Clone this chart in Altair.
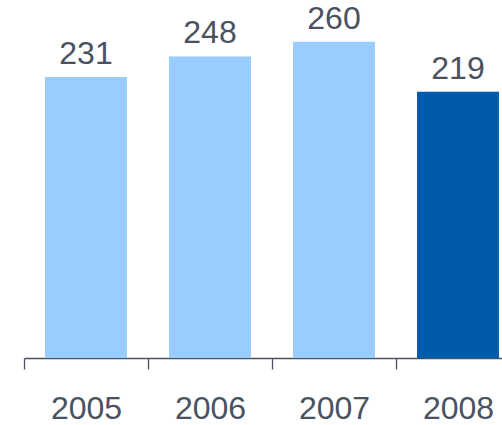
import altair as alt
import pandas as pd

years = ["2005", "2006", "2007", "2008"]
values = [231, 248, 260, 219]
bar_colors = ["#99CCFF", "#99CCFF", "#99CCFF", "#005BAC"]

df = pd.DataFrame({"year": years, "value": values})

TEXT = "#4A5261"
FONT = "Liberation Sans"

x = alt.X(
    "year:N",
    sort=years,
    title=None,
    scale=alt.Scale(range=[0, 496], paddingInner=0.339, paddingOuter=0.1695),
    axis=alt.Axis(
        labelAngle=0,
        tickOffset=-62,
        labelOffset=62,
        domainColor=TEXT,
        domainWidth=1.3,
        tickColor=TEXT,
        tickWidth=1.3,
        tickSize=11,
        labelFont=FONT,
        labelFontSize=32,
        labelColor=TEXT,
        labelPadding=24,
        grid=False,
    ),
)
y = alt.Y(
    "value:Q",
    scale=alt.Scale(domain=[0, 294.4], nice=False, zero=True),
    axis=None,
)

bars = alt.Chart(df).mark_bar().encode(
    x=x,
    y=y,
    color=alt.Color("year:N", scale=alt.Scale(domain=years, range=bar_colors), legend=None),
)

labels = alt.Chart(df).mark_text(
    baseline="alphabetic", dy=-13, fontSize=32, font=FONT, color=TEXT
).encode(
    x=alt.X("year:N", sort=years),
    y=alt.Y("value:Q"),
    text=alt.Text("value:Q"),
)

chart = (
    (bars + labels)
    .properties(
        width=478,
        height=358,
        autosize=alt.AutoSizeParams(type="none"),
        padding={"left": 24, "top": 0, "right": 0, "bottom": 67},
    )
    .configure_view(stroke=None)
)

chart.save("out.html", embed_options={"renderer": "svg", "actions": False})
